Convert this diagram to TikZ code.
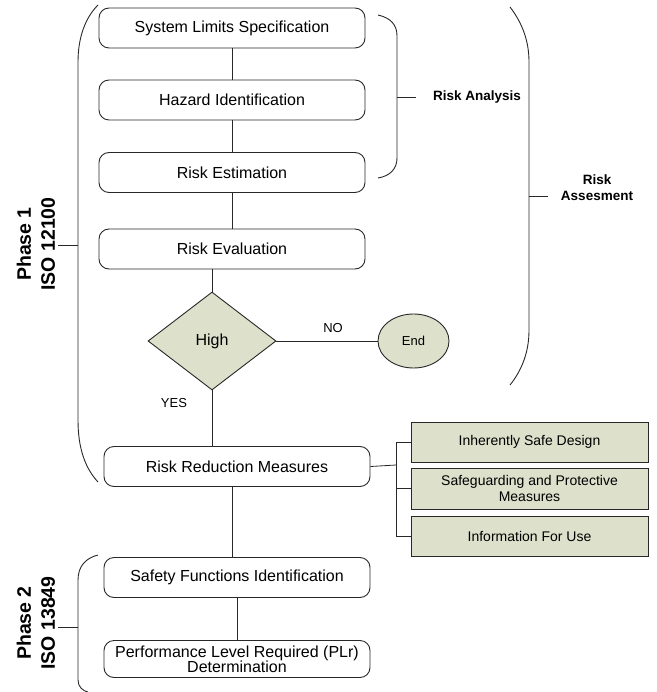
\documentclass[tikz,border=0pt]{standalone}
\usepackage{fontspec}
\setmainfont{Liberation Sans}
\usetikzlibrary{shapes.geometric}
\definecolor{olive}{RGB}{221,224,203}
\definecolor{linec}{RGB}{40,40,40}
\tikzset{
  mainbox/.style={draw=linec, line width=0.9pt, rounded corners=10pt, minimum width=266pt, minimum height=40pt, inner sep=0pt, align=center, font=\fontsize{16}{16}\selectfont},
  sidebox/.style={draw=linec, line width=0.9pt, fill=olive, minimum width=237pt, minimum height=40pt, inner sep=0pt, align=center, font=\fontsize{14}{16}\selectfont},
  conn/.style={draw=linec, line width=0.8pt},
  brace/.style={draw=linec, line width=0.9pt},
  lbl/.style={font=\fontsize{13}{15}\selectfont, inner sep=0pt},
  blbl/.style={font=\fontsize{13.5}{16}\selectfont\bfseries, inner sep=0pt, align=center},
  phase/.style={font=\fontsize{19.5}{24}\selectfont\bfseries, inner sep=0pt, align=center, rotate=90}
}
\begin{document}
\begin{tikzpicture}[x=1pt,y=-1pt]
\useasboundingbox (0,0) rectangle (656,692);
% main boxes
\node[mainbox] (sls) at (232,28) {System Limits Specification};
\node[mainbox] (hi) at (232,100) {Hazard Identification};
\node[mainbox] (re) at (232,172.5) {Risk Estimation};
\node[mainbox] (rev) at (232,249) {Risk Evaluation};
\node[diamond, draw=linec, line width=0.9pt, fill=olive, minimum width=128pt, minimum height=98pt, inner sep=0pt, font=\fontsize{16}{16}\selectfont] (high) at (212,341) {High};
\node[ellipse, draw=linec, line width=0.9pt, fill=olive, minimum width=71pt, minimum height=54pt, inner sep=0pt, font=\fontsize{13}{13}\selectfont] (end) at (413.5,341) {End};
\node[mainbox] (rrm) at (237,466.5) {Risk Reduction Measures};
\node[mainbox] (sfi) at (237,577.5) {Safety Functions Identification};
\node[mainbox, minimum height=37pt] (plr) at (237,659) {Performance Level Required (PLr)\\[-1pt]Determination};
% side boxes
\node[sidebox] (isd) at (529.5,442) {Inherently Safe Design};
\node[sidebox, minimum height=41pt] (sgp) at (529.5,488.5) {Safeguarding and Protective\\Measures};
\node[sidebox] (ifu) at (529.5,536) {Information For Use};
% connectors
\draw[conn] (sls) -- (hi);
\draw[conn] (hi) -- (re);
\draw[conn] (re) -- (rev);
\draw[conn] (rev.south -| high.north) -- (high.north);
\draw[conn] (high.east) -- (end.west);
\draw[conn] (high.south) -- (high.south |- rrm.north);
\draw[conn] (rrm.south -| sfi.north) ++(-5,0) coordinate (a1) -- (a1 |- sfi.north);
\draw[conn] (sfi) -- (plr);
\coordinate (br) at (396,465);
\draw[conn] (rrm.east) -- (br);
\draw[conn] (br |- isd.west) -- (br |- ifu.west);
\draw[conn] (br |- isd.west) -- (isd.west);
\draw[conn] (br |- sgp.west) -- (sgp.west);
\draw[conn] (br |- ifu.west) -- (ifu.west);
% labels
\node[lbl] (no) at (333,328) {NO};
\node[lbl] (yes) at (174,403) {YES};
% braces
\draw[brace] (98,5) .. controls (85,18) and (78,38) .. (78,62) -- (78,420) .. controls (78,448) and (85,468) .. (98,482);
\draw[brace] (58,245) -- (78,245);
\node[phase] (p1) at (36,244) {Phase 1\\ISO 12100};
\draw[brace] (98,555) .. controls (86,558) and (78,566) .. (78,580) -- (78,680) .. controls (78,687) and (83,691) .. (88,692);
\draw[brace] (58,627) -- (78,627);
\node[phase] (p2) at (36,623) {Phase 2\\ISO 13849};
\draw[brace] (378,15) .. controls (391,18) and (397,25) .. (397,36) -- (397,158) .. controls (397,169) and (390,176) .. (378,178);
\draw[brace] (397,97) -- (416,97);
\node[blbl, anchor=west] (ra) at (433,97) {Risk Analysis};
\draw[brace] (510,7) .. controls (523,24) and (529,42) .. (529,62) -- (529,330) .. controls (529,352) and (522,370) .. (510,385);
\draw[brace] (529,196) -- (548,196);
\node[blbl] (ras) at (597,188) {Risk\\Assesment};
\end{tikzpicture}
\end{document}
